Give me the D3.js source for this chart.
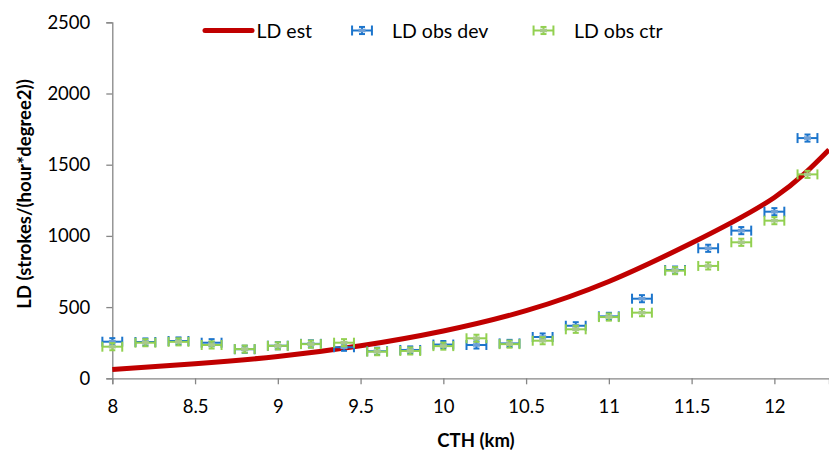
<!DOCTYPE html>
<html>
<head>
<meta charset="utf-8">
<script src="https://cdn.jsdelivr.net/npm/d3@7"></script>
<style>
body{margin:0;background:#fff}
svg{display:block}
</style>
</head>
<body>
<svg id="chart"></svg>
<script>
// observed points (CTH km) and the two observed series
var cth = [8, 8.2, 8.4, 8.6, 8.8, 9, 9.2, 9.4, 9.6, 9.8, 10, 10.2, 10.4, 10.6, 10.8, 11, 11.2, 11.4, 11.6, 11.8, 12, 12.2]
var obsDev = [257, 255, 262, 250, 204, 229, 242, 218, 190, 199, 237, 234, 245, 290, 369, 435, 559, 760, 913, 1037, 1170, 1687]
var obsCtr = [222, 250, 256, 234, 205, 228, 240, 250, 187, 192, 226, 281, 240, 264, 344, 430, 461, 756, 789, 955, 1107, 1432]
// estimated curve
var estCth = [8, 8.5, 9, 9.5, 10, 10.5, 11, 11.5, 12, 12.33]
var estLD = [62, 102, 153, 228, 332, 475, 680, 950, 1270, 1605]
var xTicks = [8, 8.5, 9, 9.5, 10, 10.5, 11, 11.5, 12]
var yTicks = [0, 500, 1000, 1500, 2000, 2500]
var xErr = 0.06, yErr = 25

var width = 829, height = 456
var svg = d3.select('#chart').attr('width', width).attr('height', height)
var font = 'Lato, "Open Sans", sans-serif'

var x = d3.scaleLinear().domain([8, 12.33]).range([112.3, 829]),
    y = d3.scaleLinear().domain([0, 2500]).range([378.3, 22.3])

var axisColor = '#868686'

// y axis
var yAxis = svg.append('g').attr('transform', 'translate(112.3,0)')
    .call(d3.axisLeft(y).tickValues(yTicks).tickSize(6).tickPadding(16).tickFormat(d => String(d)))
yAxis.select('.domain').attr('stroke', axisColor).attr('stroke-width', 1.3)
yAxis.selectAll('.tick line').attr('stroke', axisColor).attr('stroke-width', 1.3)
yAxis.selectAll('.tick text').attr('font-family', font).attr('font-size', 18.5).attr('fill', '#000')

// x axis
var xAxis = svg.append('g').attr('transform', 'translate(0,378.3)')
    .call(d3.axisBottom(x).tickValues(xTicks).tickSize(6).tickPadding(16).tickFormat(d => String(d)))
xAxis.select('.domain').attr('stroke', axisColor).attr('stroke-width', 1.3)
xAxis.selectAll('.tick line').attr('stroke', axisColor).attr('stroke-width', 1.3)
xAxis.selectAll('.tick text').attr('font-family', font).attr('font-size', 18.5).attr('fill', '#000')

// titles
svg.append('text').attr('x', 476).attr('y', 447).attr('text-anchor', 'middle')
    .attr('font-family', font).attr('font-weight', 'bold').attr('font-size', 18.5)
    .text('CTH (km)')
svg.append('text').attr('transform', 'translate(31,194) rotate(-90)').attr('text-anchor', 'middle')
    .attr('font-family', font).attr('font-weight', 'bold').attr('font-size', 18.5)
    .text('LD (strokes/(hour*degree2))')

// estimated curve
var est = estCth.map((c, i) => ({c: c, v: estLD[i]}))
svg.append('path').datum(est)
    .attr('fill', 'none').attr('stroke', '#C00000').attr('stroke-width', 5)
    .attr('d', d3.line().x(d => x(d.c)).y(d => y(d.v)).curve(d3.curveNatural))

function drawBars(g, px, py, col, mark){
    var hw = x(8 + xErr) - x(8)
    g.append('line').attr('x1', px - hw).attr('x2', px + hw).attr('y1', py).attr('y2', py)
    g.append('line').attr('x1', px - hw).attr('x2', px - hw).attr('y1', py - 5).attr('y2', py + 5)
    g.append('line').attr('x1', px + hw).attr('x2', px + hw).attr('y1', py - 5).attr('y2', py + 5)
    var vh = y(0) - y(yErr)
    g.append('line').attr('x1', px).attr('x2', px).attr('y1', py - vh).attr('y2', py + vh)
    g.append('line').attr('x1', px - 3).attr('x2', px + 3).attr('y1', py - vh).attr('y2', py - vh)
    g.append('line').attr('x1', px - 3).attr('x2', px + 3).attr('y1', py + vh).attr('y2', py + vh)
    g.selectAll('line').attr('stroke', col).attr('stroke-width', 2)
    g.append('rect').attr('x', px - 3.5).attr('y', py - 1.8).attr('width', 7).attr('height', 3.6)
        .attr('fill', mark)
}

function series(vals, col, mark){
    var sg = svg.append('g')
    vals.forEach((v, i) => {
        drawBars(sg.append('g'), x(cth[i]), y(v), col, mark)
    })
}
series(obsDev, '#1C75CC', '#6E9FD6')
series(obsCtr, '#92D050', '#A8C98A')

// legend
var lg = svg.append('g').attr('font-family', font).attr('font-size', 19.5)
lg.append('line').attr('x1', 205).attr('x2', 252).attr('y1', 30.5).attr('y2', 30.5)
    .attr('stroke', '#C00000').attr('stroke-width', 5).attr('stroke-linecap', 'round')
lg.append('text').attr('x', 256.5).attr('y', 37.5).text('LD est')
drawBars(lg.append('g'), 362, 30.5, '#1C75CC', '#6E9FD6')
lg.append('text').attr('x', 392).attr('y', 37.5).text('LD obs dev')
drawBars(lg.append('g'), 543.5, 30.5, '#92D050', '#A8C98A')
lg.append('text').attr('x', 574).attr('y', 37.5).text('LD obs ctr')
</script>
</body>
</html>
